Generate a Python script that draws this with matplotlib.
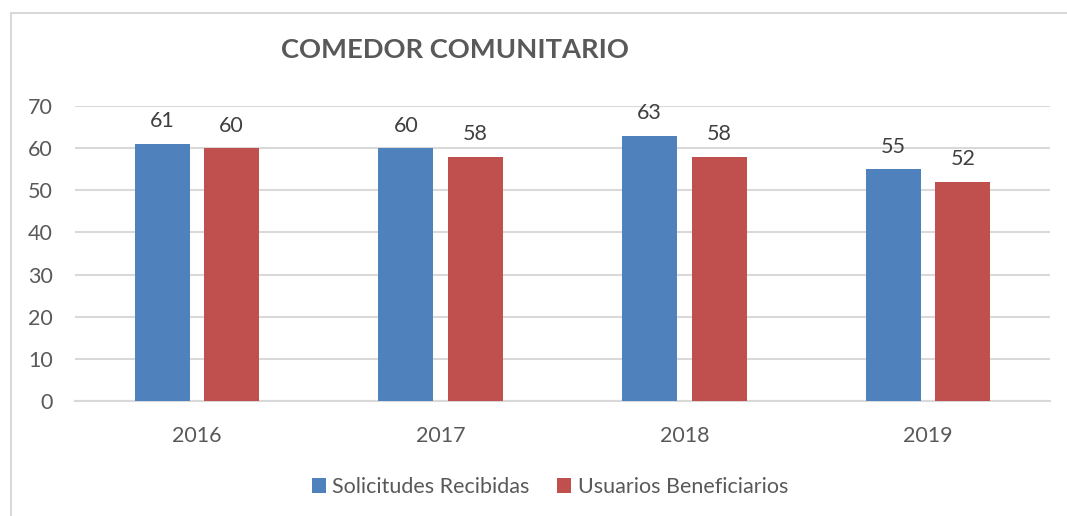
import numpy as np
import matplotlib.pyplot as plt
from matplotlib.lines import Line2D

years = ['2016', '2017', '2018', '2019']
solicitudes = [61, 60, 63, 55]
usuarios = [60, 58, 58, 52]

plt.rcParams['font.family'] = ['Lato', 'DejaVu Sans']

fig = plt.figure(figsize=(10.67, 5.16), dpi=100)
# outer chart border (only left and top visible in the crop)
bx, by = 11/1067, 1 - 13/516
fig.lines.append(Line2D([bx, bx], [0, by], transform=fig.transFigure, color='#d9d9d9', linewidth=1.5))
fig.lines.append(Line2D([bx, 1], [by, by], transform=fig.transFigure, color='#d9d9d9', linewidth=1.5))

ax = fig.add_axes([75/1067, 1 - 401/516, 975/1067, 295/516])

x = np.arange(len(years))
w = 0.2256
off = 0.1425
b1 = ax.bar(x - off, solicitudes, w, color='#4F81BD', label='Solicitudes Recibidas', zorder=3)
b2 = ax.bar(x + off, usuarios, w, color='#C0504D', label='Usuarios Beneficiarios', zorder=3)

for bars in (b1, b2):
    for r in bars:
        ax.annotate('%d' % r.get_height(), (r.get_x() + r.get_width() / 2, r.get_height()),
                    xytext=(0, 9), textcoords='offset points', ha='center', va='bottom',
                    fontsize=15.5, color='#404040')

ax.set_xlim(-0.5, 3.5)
ax.set_ylim(0, 70)
ax.set_yticks(range(0, 71, 10))
ax.set_xticks(x)
ax.set_xticklabels(years)
ax.yaxis.grid(True, color='#d9d9d9', linewidth=1.5, zorder=0)
for s in ['top', 'right', 'left']:
    ax.spines[s].set_visible(False)
ax.spines['bottom'].set_color('#d9d9d9')
ax.spines['bottom'].set_linewidth(1.5)
ax.tick_params(axis='both', length=0, labelsize=15.5, colors='#595959')
ax.tick_params(axis='x', pad=18)
ax.tick_params(axis='y', pad=16)

fig.text(455/1067, 1 - 50/516, 'COMEDOR COMUNITARIO', ha='center', va='center',
         fontsize=19.7, fontweight='bold', color='#595959')

fig.legend(loc='center', bbox_to_anchor=(550/1067, 1 - 487/516), ncol=2, frameon=False,
           fontsize=15.5, handlelength=0.65, handleheight=0.65, handletextpad=0.3,
           columnspacing=1.3, labelcolor='#595959')

fig.savefig('out.png', dpi=100)
